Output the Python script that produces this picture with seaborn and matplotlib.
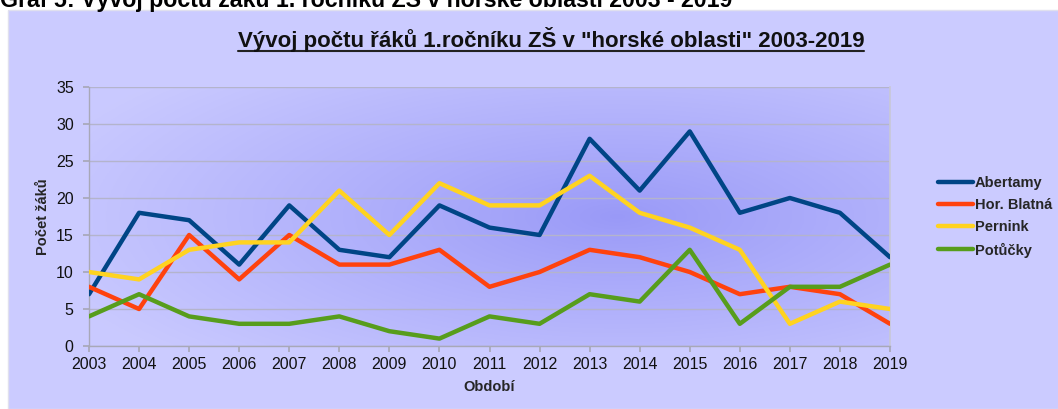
import numpy as np
import pandas as pd
import matplotlib
matplotlib.use('Agg')
import matplotlib.pyplot as plt
import seaborn as sns
from matplotlib.patches import Rectangle

# data
roky = list(range(2003, 2020))
abertamy = [7, 18, 17, 11, 19, 13, 12, 19, 16, 15, 28, 21, 29, 18, 20, 18, 12]
hor_blatna = [8, 5, 15, 9, 15, 11, 11, 13, 8, 10, 13, 12, 10, 7, 8, 7, 3]
pernink = [10, 9, 13, 14, 14, 21, 15, 22, 19, 19, 23, 18, 16, 13, 3, 6, 5]
potucky = [4, 7, 4, 3, 3, 4, 2, 1, 4, 3, 7, 6, 13, 3, 8, 8, 11]
obce = ['Abertamy', 'Hor. Blatná', 'Pernink', 'Potůčky']
barvy = ['#004586', '#ff420e', '#ffd320', '#579d1c']

df = pd.DataFrame({
    'rok': roky * 4,
    'pocet': abertamy + hor_blatna + pernink + potucky,
    'obec': [o for o in obce for _ in roky],
})

sns.set_theme(style='white')
plt.rcParams['font.family'] = ['Liberation Sans', 'DejaVu Sans']

fig = plt.figure(figsize=(10.58, 4.09), dpi=100)
fig.patch.set_facecolor('white')

# panel behind the chart
fig.patches.append(Rectangle((8 / 1058, 0), 1, 1 - 10 / 409, transform=fig.transFigure,
                             facecolor='#cbcbff', edgecolor='#e0e0ee', lw=1, zorder=-5))

# header text cut off at the top of the picture
fig.text(0.0, 1 - 6.5 / 409, 'Graf 5: Vývoj počtu žáků 1. ročníku ZŠ v horské oblasti 2003 - 2019',
         fontsize=16.7, fontweight='bold', color='black', ha='left', va='baseline')

ax = fig.add_axes([89 / 1058, 1 - 346 / 409, (890 - 89) / 1058, (346 - 87) / 409])
ax.set_facecolor('none')
ax.set_zorder(2)

# radial gradient of the plot area
yy, xx = np.mgrid[0:1:200j, 0:1:400j]
d = np.sqrt(((xx - 0.66) / 0.75) ** 2 + ((yy - 0.5) / 0.8) ** 2)
d = np.clip(d, 0, 1)
c0 = np.array([0.60, 0.60, 0.97])
c1 = np.array([0.79, 0.79, 1.0])
img = c0 + (c1 - c0) * d[..., None] ** 0.9
ax.imshow(img, extent=[0, 1, 0, 1], transform=ax.transAxes, aspect='auto', zorder=0, origin='lower')

sns.lineplot(data=df, x='rok', y='pocet', hue='obec', hue_order=obce, palette=barvy,
             linewidth=3.2, ax=ax, zorder=3)

ax.set_xlim(2003, 2019)
ax.set_ylim(0, 35)
ax.set_xticks(roky)
ax.set_yticks(range(0, 36, 5))
ax.yaxis.grid(True, color='#b4b4cc', lw=1)
ax.xaxis.grid(False)
for s in ['left', 'bottom']:
    ax.spines[s].set_color('#a8a8b8')
    ax.spines[s].set_linewidth(1)
ax.spines['right'].set_color('#c8c8d8')
ax.spines['top'].set_visible(False)
ax.tick_params(axis='both', which='both', length=4, color='#a8a8b8', direction='out',
               labelsize=11.5, labelcolor='#111111', bottom=True, left=True)
ax.tick_params(axis='y', pad=7)
ax.tick_params(axis='x', pad=4)

ax.set_xlabel('Období', fontsize=10.5, fontweight='bold', labelpad=6)
ax.set_ylabel('Počet žáků', fontsize=10.5, fontweight='bold', labelpad=4)

leg = ax.legend(loc='center left', bbox_to_anchor=(931 / 1058, 1 - 217 / 409),
                bbox_transform=fig.transFigure, frameon=False, fontsize=10.5,
                handlelength=2.4, handletextpad=0.1, labelspacing=0.55, borderpad=0)
for t in leg.get_texts():
    t.set_fontweight('bold')
for ln in leg.get_lines():
    ln.set_linewidth(3.2)

# chart title, underlined
title = fig.text(551 / 1058, 1 - 40 / 409, 'Vývoj počtu řáků 1.ročníku ZŠ v "horské oblasti" 2003-2019',
                 fontsize=16, fontweight='bold', ha='center', va='center', color='#111111')
fig.canvas.draw()
bb = title.get_window_extent().transformed(fig.transFigure.inverted())
fig.lines.append(plt.Line2D([bb.x0, bb.x1], [bb.y0 + 0.004, bb.y0 + 0.004], transform=fig.transFigure,
                            color='#222222', lw=1.5))

fig.savefig('out.png', dpi=100)
